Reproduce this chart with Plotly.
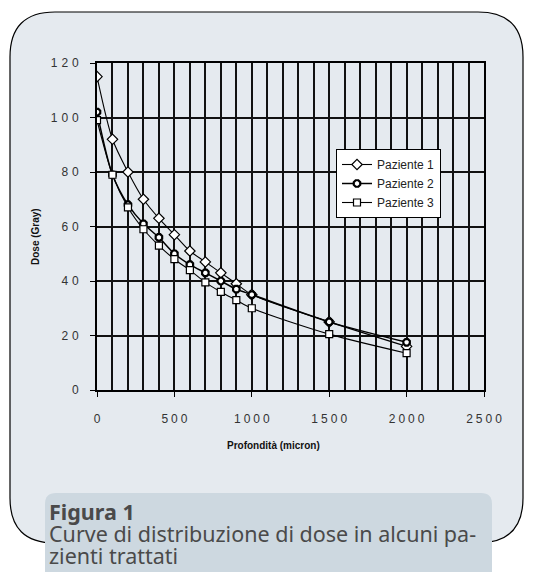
import plotly.graph_objects as go

# ---- data ----
depth = [0, 100, 200, 300, 400, 500, 600, 700, 800, 900, 1000, 1500, 2000]
paziente1 = [115, 92, 80, 70, 63, 57, 51, 47, 43, 39, 35, 25, 16]
paziente2 = [102, 79, 68, 61, 56, 50, 46, 43, 40, 37, 35, 25, 17.5]
paziente3 = [99, 79, 67, 59, 53, 48, 44, 39.5, 36, 33, 30, 20.5, 13.5]
series_names = ["Paziente 1", "Paziente 2", "Paziente 3"]
x_ticks = [0, 500, 1000, 1500, 2000, 2500]
y_ticks = [0, 20, 40, 60, 80, 100, 120]

W, H = 540, 572
L, R, T, B = 97, 484, 63, 390  # plot area pixels
PW, PH = R - L, B - T


def px(x):
    return (x - L) / PW


def py(y):
    return 1 - (y - T) / PH


def spaced(s, sep):
    return sep.join(list(s))


fig = go.Figure()
symbols = ["diamond", "octagon", "square"]
lw = [1.1, 1.5, 1.1]
mlw = [1.2, 2.2, 1.2]
msize = [8, 7, 7]
for name, ys, sym, w, mw, ms in zip(series_names, [paziente1, paziente2, paziente3], symbols, lw, mlw, msize):
    fig.add_trace(go.Scatter(
        x=depth, y=ys, name=name, mode="lines+markers",
        line=dict(color="black", width=w, shape="spline", smoothing=0.8),
        marker=dict(symbol=sym, size=ms, color="white",
                    line=dict(color="black", width=mw)),
    ))

# rounded outline
def rrect(x0, y0, x1, y1, r):
    return (f"M {px(x0 + r)} {py(y0)} L {px(x1 - r)} {py(y0)} "
            f"Q {px(x1)} {py(y0)} {px(x1)} {py(y0 + r)} "
            f"L {px(x1)} {py(y1 - r)} Q {px(x1)} {py(y1)} {px(x1 - r)} {py(y1)} "
            f"L {px(x0 + r)} {py(y1)} Q {px(x0)} {py(y1)} {px(x0)} {py(y1 - r)} "
            f"L {px(x0)} {py(y0 + r)} Q {px(x0)} {py(y0)} {px(x0 + r)} {py(y0)} Z")

shapes = [
    dict(type="path", xref="paper", yref="paper", path=rrect(10, 12, 523, 543, 45),
         fillcolor="#e5eaef", line=dict(color="black", width=1.2), layer="below"),
    dict(type="path", xref="paper", yref="paper", path=rrect(45, 493, 492, 590, 11),
         fillcolor="#cdd8e0", line=dict(width=0), layer="below"),
]

cap_font = dict(family="Noto Sans", size=21.5, color="#4a4a4a")
annotations = [
    dict(text="<b>Dose (Gray)</b>", x=px(35), y=py(237), xref="paper", yref="paper",
         xanchor="center", yanchor="middle",
         textangle=-90, showarrow=False, font=dict(family="Arial, Liberation Sans", size=10, color="#111")),
    dict(text="<b>Profondità (micron)</b>", x=px(273), y=py(445), xref="paper", yref="paper",
         xanchor="center", yanchor="middle",
         showarrow=False, font=dict(family="Arial, Liberation Sans", size=10, color="#111")),
    dict(text="<b>Figura 1</b>", x=px(47), y=py(511), xref="paper", yref="paper",
         xanchor="left", yanchor="middle", showarrow=False, font=cap_font),
    dict(text="Curve di distribuzione di dose in alcuni pa-", x=px(47), y=py(533), xref="paper", yref="paper",
         xanchor="left", yanchor="middle", showarrow=False, font=cap_font),
    dict(text="zienti trattati", x=px(47), y=py(555), xref="paper", yref="paper",
         xanchor="left", yanchor="middle", showarrow=False, font=cap_font),
]

axis_font = dict(family="Arial, Liberation Sans", size=12, color="#333")
grid_c = "#111"
fig.update_layout(
    width=W, height=H,
    margin=dict(l=L, r=W - R, t=T, b=H - B),
    paper_bgcolor="white", plot_bgcolor="white",
    showlegend=True,
    legend=dict(x=px(336), y=py(149), xanchor="left", yanchor="top",
                bgcolor="white", bordercolor="black", borderwidth=1,
                font=dict(family="Arial, Liberation Sans", size=12, color="#222"),
                itemwidth=30, tracegroupgap=0),
    shapes=shapes, annotations=annotations,
    xaxis=dict(range=[0, 2500], tickvals=x_ticks,
               ticktext=[spaced(str(v), "\u2005") for v in x_ticks],
               ticks="outside", ticklen=5, tickcolor="black", tickwidth=1.4,
               showgrid=True, gridcolor=grid_c, gridwidth=1.7,
               minor=dict(dtick=100, showgrid=True, gridcolor=grid_c, gridwidth=1.7, ticks=""),
               showline=True, linecolor="black", linewidth=1.6, mirror=True,
               zeroline=False, tickfont=axis_font, ticklabelstandoff=12),
    yaxis=dict(range=[0, 120], tickvals=y_ticks,
               ticktext=[spaced(str(v), "\u2005\u200a") for v in y_ticks],
               ticks="outside", ticklen=5, tickcolor="black", tickwidth=1.4,
               showgrid=True, gridcolor=grid_c, gridwidth=1.7,
               showline=True, linecolor="black", linewidth=1.6, mirror=True,
               zeroline=False, tickfont=axis_font, ticklabelstandoff=9),
)

fig.write_html("out.html")
